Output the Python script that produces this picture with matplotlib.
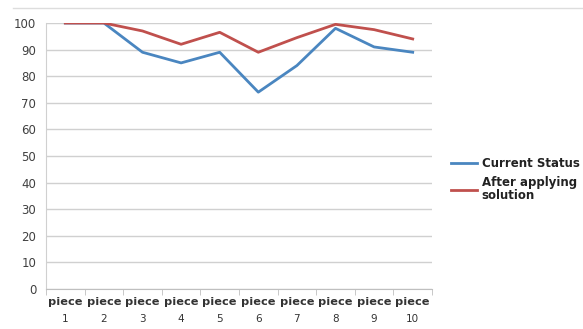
import matplotlib
matplotlib.use("Agg")
import matplotlib.pyplot as plt
from matplotlib.lines import Line2D
import matplotlib.transforms as mtransforms
import numpy as np

categories = ["piece 1", "piece 2", "piece 3", "piece 4", "piece 5",
              "piece 6", "piece 7", "piece 8", "piece 9", "piece 10"]
current_status = [100, 100, 89, 85, 89, 74, 84, 98, 91, 89]
after_solution = [100, 100, 97, 92, 96.5, 89, 94.5, 99.5, 97.5, 94]
y_ticks = [0, 10, 20, 30, 40, 50, 60, 70, 80, 90, 100]

BLUE = "#4A86C0"
RED = "#C0504D"

fig = plt.figure(figsize=(5.83, 3.29), dpi=100)
ax = fig.add_axes([46/583, 1-289/329, (432-46)/583, (289-23)/329])

x = np.arange(len(categories))
ax.plot(x, current_status, color=BLUE, lw=2.0, solid_joinstyle="round")
ax.plot(x, after_solution, color=RED, lw=2.0, solid_joinstyle="round")

ax.set_xlim(-0.5, len(categories) - 0.5)
ax.set_ylim(0, 100)
ax.set_yticks(y_ticks)
ax.yaxis.grid(True, color="#D0D0D0", lw=1.0)
ax.set_axisbelow(True)
for s in ["top", "right"]:
    ax.spines[s].set_visible(False)
ax.spines["left"].set_color("#D0D0D0")
ax.spines["bottom"].set_color("#BFBFBF")
ax.tick_params(axis="y", length=0, labelsize=8.5, labelcolor="#404040", pad=7)

ax.set_xticks(x)
ax.set_xticklabels([c.split(" ")[0] for c in categories], fontweight="bold",
                   fontsize=8.2, color="#333333")
ax.tick_params(axis="x", length=0, pad=6)
ax.set_xticks(np.arange(-0.5, len(categories), 1.0), minor=True)
ax.tick_params(axis="x", which="minor", length=4, color="#BFBFBF", direction="out")

trans = mtransforms.blended_transform_factory(ax.transData, fig.transFigure)
for xi, c in zip(x, categories):
    ax.text(xi, 1 - 319/329, c.split(" ")[1], transform=trans, ha="center",
            va="center", fontsize=7.5, color="#333333")

# outer chart border line on top
fig.add_artist(Line2D([13/583, 1.0], [1 - 8/329, 1 - 8/329], color="#DDDDDD", lw=1.0))

handles = [Line2D([0], [0], color=BLUE, lw=2.0), Line2D([0], [0], color=RED, lw=2.0)]
leg = fig.legend(handles, ["Current Status", "After applying\nsolution"],
                 loc="upper left", bbox_to_anchor=(445/583, 1 - 151/329),
                 frameon=False, fontsize=8.5, handlelength=2.2, handletextpad=0.4,
                 labelspacing=0.5, borderpad=0)
for t in leg.get_texts():
    t.set_fontweight("bold")
    t.set_color("#222222")
    t.set_linespacing(1.0)

fig.savefig("out.png", dpi=100)
